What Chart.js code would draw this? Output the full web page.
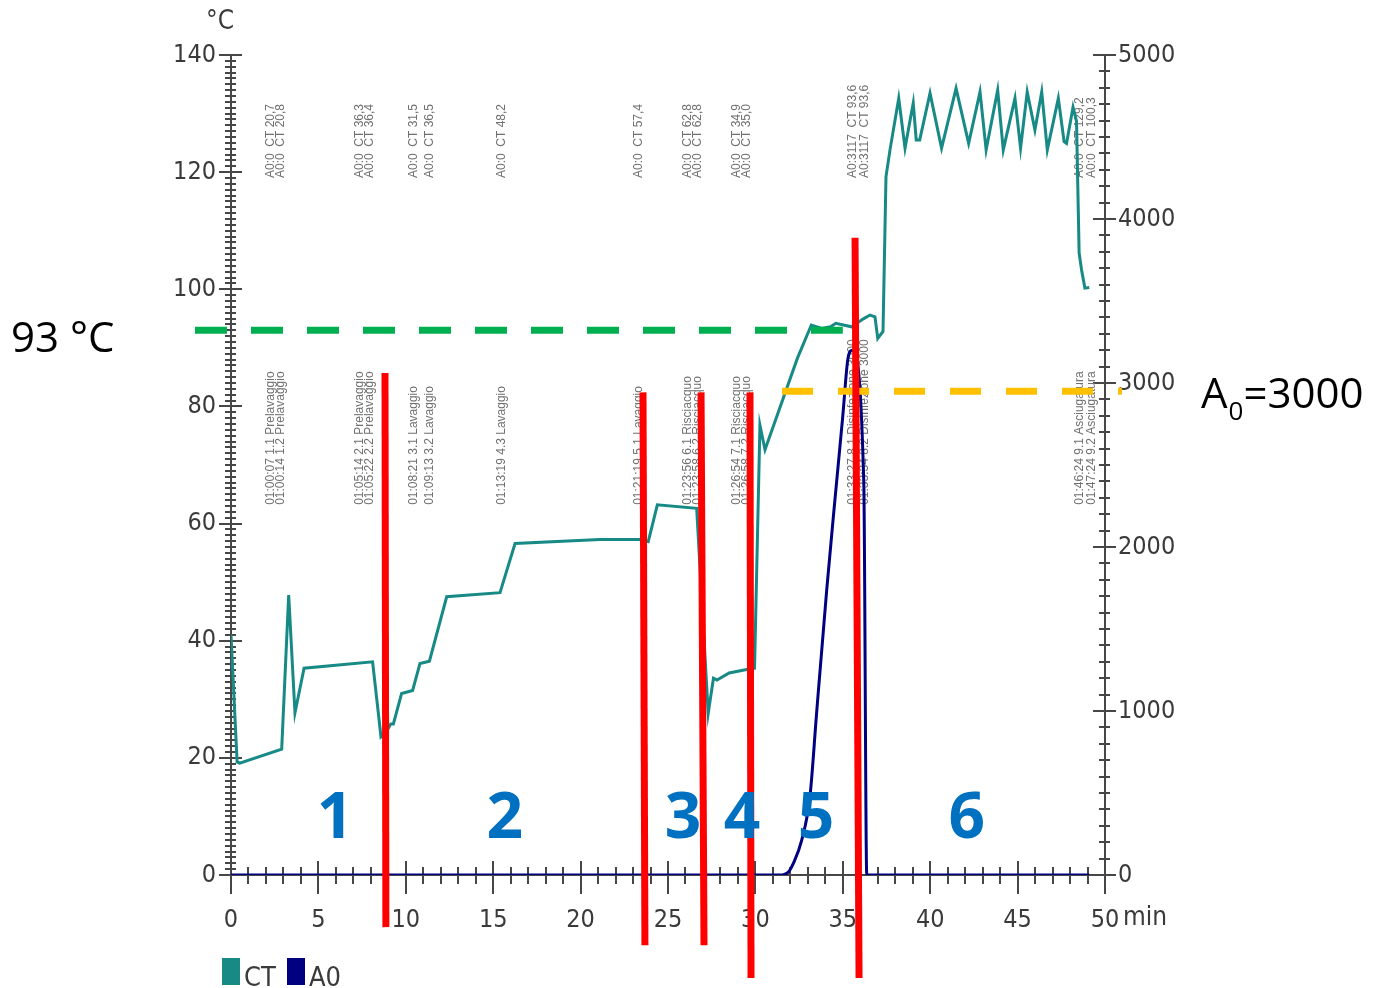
<!DOCTYPE html>
<html>
<head>
<meta charset="utf-8">
<script src="https://cdn.jsdelivr.net/npm/chart.js@4"></script>
<style>
  html, body { margin: 0; padding: 0; background: #fff; }
  #wrap { width: 1373px; height: 988px; }
</style>
</head>
<body>
<div id="wrap"><canvas id="chart" width="1373" height="988"></canvas></div>
<script>
// CT temperature trace (min, °C)
const ctTime = [0, 0.35, 0.5, 2.9, 3.3, 3.66, 4.18, 8.1, 8.58, 8.9, 9.14, 9.29, 9.76, 10.39, 10.81, 11.35,
  12.34, 15.39, 16.25, 21.1, 23.4, 23.87, 24.39, 26.64, 27.3, 27.6, 27.8, 28.5, 29.5, 29.95, 30.26, 30.55,
  32.4, 33.2, 33.8, 34.3, 34.6, 35.5, 36.2, 36.56, 36.84, 37.0, 37.3, 37.47, 37.7, 38.2, 38.56, 39.03, 39.2,
  39.4, 39.99, 40.65, 41.48, 42.2, 42.85, 43.2, 43.86, 44.18, 44.85, 45.17, 45.55, 45.99, 46.38, 46.7, 47.33,
  47.66, 47.8, 48.17, 48.37, 48.52, 48.66, 48.85, 49.1];
const ctTemp = [41, 19.3, 19.1, 21.5, 47.8, 27.7, 35.3, 36.4, 23.6, 24.5, 25.8, 25.8, 31.0, 31.5, 36.1, 36.5,
  47.5, 48.2, 56.6, 57.3, 57.3, 56.9, 63.2, 62.6, 27.6, 33.6, 33.3, 34.5, 35.1, 35.3, 76.8, 72.6,
  88.2, 93.9, 93.3, 93.6, 94.2, 93.6, 95.0, 95.6, 95.3, 91.6, 92.8, 119.2, 123.8, 132.6, 124.1, 131.8, 125.5,
  125.5, 133.5, 124.1, 134.3, 124.9, 133.7, 123.8, 134.0, 123.8, 132.6, 124.1, 133.7, 127.2, 133.7, 123.8, 132.6,
  125.2, 124.9, 131.1, 128.7, 106.2, 103.3, 100.2, 100.3];

// A0 trace (min, A0)
const a0Time = [0, 31.4, 31.9, 32.17, 32.65, 33.12, 33.5, 34.08, 34.46, 35.0, 35.3, 35.55, 36.2, 36.37, 49.1];
const a0Value = [0, 0, 20, 71, 213, 477, 986, 1738, 2185, 2800, 3152, 3200, 2400, 0, 0];

// axes
const timeTicks = [0, 5, 10, 15, 20, 25, 30, 35, 40, 45, 50];
const tempTicks = [0, 20, 40, 60, 80, 100, 120, 140];
const a0Ticks = [0, 1000, 2000, 3000, 4000, 5000];

// event log printed on the chart
const eventTime = [2.29, 2.86, 7.38, 7.95, 10.47, 11.38, 15.5, 23.34, 26.14, 26.72, 28.95, 29.52, 35.58, 36.27, 48.57, 49.26];
const eventStep = ['01:00:07 1.1 Prelavaggio', '01:00:14 1.2 Prelavaggio', '01:05:14 2.1 Prelavaggio',
  '01:05:22 2.2 Prelavaggio', '01:08:21 3.1 Lavaggio', '01:09:13 3.2 Lavaggio', '01:13:19 4.3 Lavaggio',
  '01:21:19 5.1 Lavaggio', '01:23:56 6.1 Risciacquo', '01:23:58 6.2 Risciacquo', '01:26:54 7.1 Risciacquo',
  '01:26:58 7.2 Risciacquo', '01:33:27 8.1 Disinfezione 3000', '01:33:34 8.2 Disinfezione 3000',
  '01:46:24 9.1 Asciugatura', '01:47:24 9.2 Asciugatura'];
const eventValue = ['A0:0  CT 20,7', 'A0:0  CT 20,8', 'A0:0  CT 36,3', 'A0:0  CT 36,4', 'A0:0  CT 31,5',
  'A0:0  CT 36,5', 'A0:0  CT 48,2', 'A0:0  CT 57,4', 'A0:0  CT 62,8', 'A0:0  CT 62,8', 'A0:0  CT 34,9',
  'A0:0  CT 35,0', 'A0:3117  CT 93,6', 'A0:3117  CT 93,6', 'A0:0  CT 129,2', 'A0:0  CT 100,3'];

// phase markers (red lines) and phase numbers
const phaseTopTime = [8.81, 23.57, 26.89, 29.69, 35.70];
const phaseBottomTime = [8.86, 23.68, 27.06, 29.75, 35.93];
const phaseTopTemp = [85.7, 82.4, 82.4, 82.4, 108.8];
const phaseBottomTemp = [-8.9, -12.0, -12.0, -17.6, -17.6];
const phaseNames = ['1', '2', '3', '4', '5', '6'];
const phaseNameTime = [5.95, 15.67, 25.86, 29.23, 33.47, 42.1];

// thresholds
const tempLimit = 93;
const tempLimitFrom = -2.06, tempLimitTo = 35.0;
const a0Limit = 2950;
const a0LimitFrom = 31.52, a0LimitTo = 50.97;

const TEAL = '#178a86';
const NAVY = '#000080';
const AXIS = '#474747';
const LABEL = '#3a3a3a';
const NARROW = "'Liberation Sans Narrow', 'DejaVu Sans Condensed', 'Liberation Sans', sans-serif";

const decor = {
  id: 'decor',
  beforeDatasetsDraw(chart) {
    const { ctx, scales: { x, yT, yA } } = chart;
    ctx.save();
    ctx.strokeStyle = AXIS;
    ctx.lineWidth = 2;
    ctx.beginPath();
    const y0 = x.top;
    for (let m = 0; m <= 50; m++) {
      const px = Math.round(x.getPixelForValue(m));
      const major = m % 5 === 0;
      ctx.moveTo(px, y0 - (major ? 14 : 8));
      ctx.lineTo(px, y0 + (major ? 19 : 9));
    }
    const xl = Math.round(yT.right);
    for (let t = 0; t <= 140; t++) {
      const py = Math.round(yT.getPixelForValue(t));
      const major = t % 20 === 0;
      ctx.moveTo(xl - (major ? 12 : 6), py);
      ctx.lineTo(xl + (major ? 11 : 5), py);
    }
    const xr = Math.round(yA.left);
    for (let a = 0; a <= 5000; a += 100) {
      const py = Math.round(yA.getPixelForValue(a));
      const major = a % 1000 === 0;
      ctx.moveTo(xr - (major ? 12 : 6), py);
      ctx.lineTo(xr + (major ? 11 : 5), py);
    }
    ctx.stroke();

    // event labels, rotated
    ctx.fillStyle = '#707070';
    ctx.font = "12px 'Liberation Sans', sans-serif";
    ctx.textBaseline = 'middle';
    ctx.textAlign = 'left';
    eventTime.forEach((t, i) => {
      const px = x.getPixelForValue(t);
      [[eventValue[i], 119.0], [eventStep[i], 63.2]].forEach(([txt, v]) => {
        ctx.save();
        ctx.translate(px, yT.getPixelForValue(v));
        ctx.rotate(-Math.PI / 2);
        ctx.fillText(txt, 0, 0);
        ctx.restore();
      });
    });
    ctx.restore();
  },
  afterDraw(chart) {
    const { ctx, scales: { x, yT, yA } } = chart;
    ctx.save();

    // axis unit texts
    ctx.fillStyle = LABEL;
    ctx.font = '26px ' + NARROW;
    ctx.textAlign = 'center';
    ctx.textBaseline = 'alphabetic';
    ctx.fillText('°C', yT.right - 11, 29);
    ctx.textAlign = 'left';
    ctx.textBaseline = 'middle';
    ctx.fillText('min', x.getPixelForValue(50) + 18, 918);

    // legend
    chart.data.datasets.forEach((ds, i) => {
      const bx = [222, 287][i];
      ctx.fillStyle = ds.borderColor;
      ctx.fillRect(bx, 958, 18, 27);
      ctx.fillStyle = LABEL;
      ctx.font = '27px ' + NARROW;
      ctx.textBaseline = 'alphabetic';
      ctx.fillText(ds.label, bx + 22, 986);
    });

    // threshold lines
    ctx.lineWidth = 7;
    ctx.lineCap = 'butt';
    ctx.setLineDash([32, 24]);
    ctx.strokeStyle = '#00b050';
    ctx.beginPath();
    let ty = yT.getPixelForValue(tempLimit);
    ctx.moveTo(x.getPixelForValue(tempLimitFrom), ty);
    ctx.lineTo(x.getPixelForValue(tempLimitTo), ty);
    ctx.stroke();
    ctx.setLineDash([31, 25]);
    ctx.strokeStyle = '#ffc000';
    ctx.beginPath();
    ty = yA.getPixelForValue(a0Limit);
    ctx.moveTo(x.getPixelForValue(a0LimitFrom), ty);
    ctx.lineTo(x.getPixelForValue(a0LimitTo), ty);
    ctx.stroke();
    ctx.setLineDash([]);

    // phase markers
    ctx.strokeStyle = '#ff0000';
    ctx.lineWidth = 7;
    phaseTopTime.forEach((t, i) => {
      ctx.beginPath();
      ctx.moveTo(x.getPixelForValue(t), yT.getPixelForValue(phaseTopTemp[i]));
      ctx.lineTo(x.getPixelForValue(phaseBottomTime[i]), yT.getPixelForValue(phaseBottomTemp[i]));
      ctx.stroke();
    });

    // phase numbers
    ctx.fillStyle = '#0070c0';
    ctx.font = "bold 64px 'Open Sans', sans-serif";
    ctx.textAlign = 'center';
    ctx.textBaseline = 'alphabetic';
    phaseNames.forEach((n, i) => {
      ctx.fillText(n, x.getPixelForValue(phaseNameTime[i]), 838);
    });

    // side notes
    ctx.fillStyle = '#000';
    ctx.textAlign = 'left';
    ctx.font = "42px 'Open Sans', sans-serif";
    ctx.fillText('93 °C', 11, 352);
    ctx.fillText('A', 1201, 408);
    let w = ctx.measureText('A').width;
    ctx.font = "26px 'Open Sans', sans-serif";
    ctx.fillText('0', 1201 + w + 1, 420);
    const w0 = ctx.measureText('0').width;
    ctx.font = "42px 'Open Sans', sans-serif";
    ctx.fillText('=3000', 1201 + w + w0 + 1, 408);
    ctx.restore();
  }
};

const tickFont = { family: NARROW, size: 25 };
const plain = v => String(v);

new Chart(document.getElementById('chart'), {
  type: 'line',
  data: {
    datasets: [
      {
        label: 'CT',
        data: ctTime.map((t, i) => ({ x: t, y: ctTemp[i] })),
        yAxisID: 'yT',
        borderColor: TEAL,
        backgroundColor: TEAL,
        borderWidth: 3,
        pointRadius: 0,
        tension: 0
      },
      {
        label: 'A0',
        data: a0Time.map((t, i) => ({ x: t, y: a0Value[i] })),
        yAxisID: 'yA',
        borderColor: NAVY,
        backgroundColor: NAVY,
        borderWidth: 3,
        pointRadius: 0,
        cubicInterpolationMode: 'monotone'
      }
    ]
  },
  options: {
    responsive: false,
    animation: false,
    devicePixelRatio: 1,
    layout: { padding: { left: 160, right: 188, top: 55, bottom: 53 } },
    plugins: { legend: { display: false }, tooltip: { enabled: false } },
    scales: {
      x: {
        type: 'linear', position: 'bottom', min: 0, max: 50,
        afterBuildTicks: s => { s.ticks = timeTicks.map(v => ({ value: v })); },
        grid: { display: false, drawTicks: false },
        border: { display: true, color: AXIS, width: 2 },
        ticks: { padding: 30, color: LABEL, font: tickFont, maxRotation: 0, autoSkip: false, callback: plain },
        afterFit: s => { s.height = 60; }
      },
      yT: {
        type: 'linear', position: 'left', min: 0, max: 140,
        afterBuildTicks: s => { s.ticks = tempTicks.map(v => ({ value: v })); },
        grid: { display: false, drawTicks: false },
        border: { display: true, color: AXIS, width: 2 },
        ticks: { padding: 15, color: LABEL, font: tickFont, callback: plain },
        afterFit: s => { s.width = 71; }
      },
      yA: {
        type: 'linear', position: 'right', min: 0, max: 5000,
        afterBuildTicks: s => { s.ticks = a0Ticks.map(v => ({ value: v })); },
        grid: { display: false, drawTicks: false },
        border: { display: true, color: AXIS, width: 2 },
        ticks: { padding: 13, color: LABEL, font: tickFont, callback: plain },
        afterFit: s => { s.width = 80; }
      }
    }
  },
  plugins: [decor]
});
</script>
</body>
</html>
